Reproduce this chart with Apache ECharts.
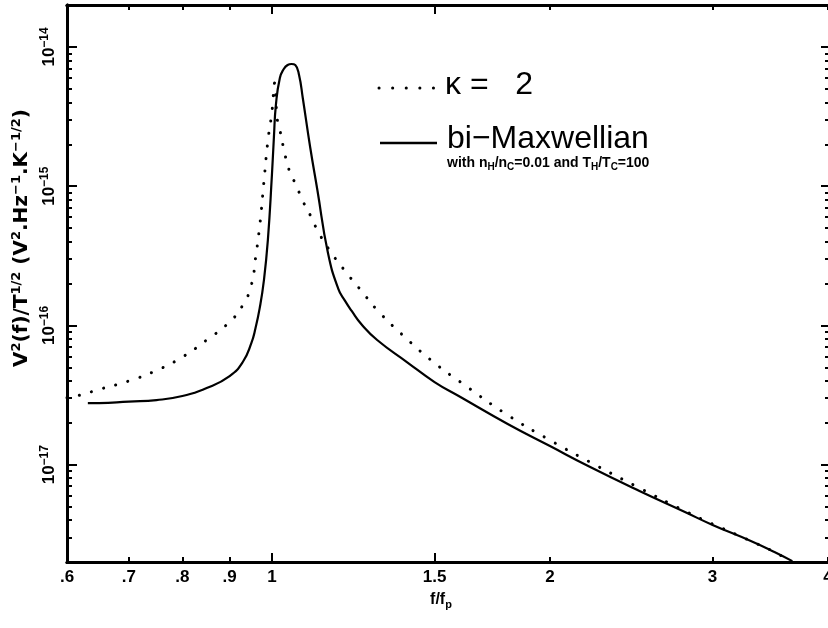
<!DOCTYPE html>
<html>
<head>
<meta charset="utf-8">
<script src="https://cdn.jsdelivr.net/npm/echarts@6/dist/echarts.min.js"></script>
<style>
  html, body { margin: 0; padding: 0; background: #fff; }
  #chart { width: 828px; height: 628px; }
</style>
</head>
<body>
<div id="chart"></div>
<script>
// kappa = 2 curve (dotted)
var freqKappa = [0.6, 0.62, 0.65, 0.7, 0.75, 0.8, 0.85, 0.9, 0.93, 0.95, 0.96, 0.97, 0.98, 0.99, 1.0, 1.007, 1.013, 1.02, 1.03, 1.04, 1.05, 1.06, 1.08, 1.1, 1.12, 1.15, 1.2, 1.25, 1.3, 1.4, 1.5, 1.6, 1.8, 2.0, 2.2, 2.5, 2.8, 3.0, 3.3, 3.5, 3.62];
var valKappa = [3.02e-17, 3.16e-17, 3.47e-17, 3.99e-17, 4.75e-17, 5.93e-17, 7.86e-17, 1.06e-16, 1.40e-16, 1.95e-16, 3.05e-16, 5.17e-16, 1.05e-15, 2.11e-15, 3.41e-15, 5.51e-15, 3.09e-15, 2.53e-15, 1.85e-15, 1.42e-15, 1.18e-15, 1.05e-15, 7.83e-16, 6.21e-16, 4.84e-16, 3.60e-16, 2.46e-16, 1.77e-16, 1.29e-16, 7.99e-17, 5.37e-17, 3.92e-17, 2.27e-17, 1.50e-17, 1.06e-17, 6.80e-18, 4.65e-18, 3.75e-18, 2.83e-18, 2.36e-18, 2.07e-18];
// bi-Maxwellian curve (solid)
var freqBiMax = [0.632, 0.65, 0.7, 0.75, 0.8, 0.85, 0.9, 0.93, 0.95, 0.96, 0.97, 0.98, 0.99, 1.0, 1.005, 1.01, 1.02, 1.03, 1.04, 1.05, 1.06, 1.07, 1.08, 1.1, 1.12, 1.15, 1.18, 1.2, 1.22, 1.25, 1.3, 1.4, 1.5, 1.6, 1.8, 2.0, 2.2, 2.5, 2.8, 3.0, 3.3, 3.5, 3.66];
var valBiMax = [2.77e-17, 2.77e-17, 2.84e-17, 2.91e-17, 3.11e-17, 3.55e-17, 4.33e-17, 5.46e-17, 7.47e-17, 9.58e-17, 1.33e-16, 2.08e-16, 4.11e-16, 1.20e-15, 2.25e-15, 3.83e-15, 5.98e-15, 6.94e-15, 7.42e-15, 7.54e-15, 7.42e-15, 6.28e-15, 4.30e-15, 1.91e-15, 9.39e-16, 3.31e-16, 1.83e-16, 1.50e-16, 1.27e-16, 1.02e-16, 7.86e-17, 5.46e-17, 3.92e-17, 3.06e-17, 1.96e-17, 1.36e-17, 9.78e-18, 6.47e-18, 4.57e-18, 3.69e-18, 2.83e-18, 2.36e-18, 2.03e-18];

var xTicks = [0.6, 0.7, 0.8, 0.9, 1, 1.5, 2, 3, 4];
var xTickLabels = ['.6', '.7', '.8', '.9', '1', '1.5', '2', '3', '4'];
var xLongTicks = [1, 1.5];
var yMajor = [1e-17, 1e-16, 1e-15, 1e-14];
var yMajorExp = ['17', '16', '15', '14'];
var yMinorMult = [2, 3, 4, 5, 6, 7, 8, 9];
var yDecades = [1e-18, 1e-17, 1e-16, 1e-15, 1e-14];

var X_MIN = 0.6, X_MAX = 4, Y_MIN = 2e-18, Y_MAX = 2e-14;

var yMinor = [];
yDecades.forEach(function (d) {
  yMinorMult.forEach(function (m) {
    var v = d * m;
    if (v >= Y_MIN * 0.999 && v <= Y_MAX * 1.001) yMinor.push(v);
  });
});

function pairs(xs, ys) {
  return xs.map(function (x, i) { return [x, ys[i]]; });
}

var FONT = 'Liberation Sans';

function xAxisCfg(position, ticks, len, labels) {
  return {
    type: 'log', logBase: 10, min: X_MIN, max: X_MAX, position: position, gridIndex: 0,
    axisLine: { show: true, onZero: false, lineStyle: { color: '#000', width: 3 } },
    axisTick: { show: true, inside: true, length: len, customValues: ticks, lineStyle: { color: '#000', width: 2 } },
    axisLabel: labels ? {
      show: true, customValues: xTicks, margin: 7, color: '#000',
      fontFamily: FONT, fontWeight: 'bold', fontSize: 17,
      formatter: function (v) {
        for (var i = 0; i < xTicks.length; i++) {
          if (Math.abs(xTicks[i] - v) < 1e-6) return xTickLabels[i];
        }
        return '';
      }
    } : { show: false },
    splitLine: { show: false }, minorTick: { show: false }, minorSplitLine: { show: false }
  };
}

function yAxisCfg(position, ticks, len, labels, showLine) {
  return {
    type: 'log', logBase: 10, min: Y_MIN, max: Y_MAX, position: position, gridIndex: 0,
    axisLine: { show: showLine, onZero: false, lineStyle: { color: '#000', width: 3 } },
    axisTick: { show: true, inside: true, length: len, customValues: ticks, lineStyle: { color: '#000', width: 2 } },
    axisLabel: labels ? {
      show: true, customValues: yMajor, rotate: 90, margin: 8, color: '#000',
      formatter: function (v) {
        for (var i = 0; i < yMajor.length; i++) {
          if (Math.abs(Math.log10(yMajor[i]) - Math.log10(v)) < 1e-6) return '{b|10}{s|\u2212' + yMajorExp[i] + '}';
        }
        return '';
      },
      rich: {
        b: { fontFamily: FONT, fontWeight: 'bold', fontSize: 17, lineHeight: 20, color: '#000' },
        s: { fontFamily: FONT, fontWeight: 'bold', fontSize: 12, lineHeight: 12, verticalAlign: 'top', color: '#000' }
      }
    } : { show: false },
    splitLine: { show: false }, minorTick: { show: false }, minorSplitLine: { show: false }
  };
}

var xOther = xTicks.filter(function (v) { return xLongTicks.indexOf(v) < 0; });

var option = {
  animation: false,
  backgroundColor: '#fff',
  grid: { left: 67, right: 0, top: 5, bottom: 66, containLabel: false, outerBoundsMode: 'none' },
  xAxis: [
    xAxisCfg('bottom', xOther, 5, true),
    xAxisCfg('bottom', xLongTicks, 9, false),
    xAxisCfg('top', xOther, 5, false),
    xAxisCfg('top', xLongTicks, 9, false)
  ],
  yAxis: [
    yAxisCfg('left', yMajor, 10, true, true),
    yAxisCfg('left', yMinor, 5, false, true),
    yAxisCfg('right', yMajor, 7, false, false),
    yAxisCfg('right', yMinor, 3, false, false)
  ],
  series: [
    {
      name: 'kappa', type: 'line', xAxisIndex: 0, yAxisIndex: 0,
      data: pairs(freqKappa, valKappa), symbol: 'none', clip: true,
      smooth: 0.5,
      lineStyle: { color: '#000', width: 3, type: [0.1, 12.5], cap: 'round' }
    },
    {
      name: 'biMax', type: 'line', xAxisIndex: 0, yAxisIndex: 0,
      data: pairs(freqBiMax, valBiMax), symbol: 'none', clip: true,
      smooth: 0.5,
      lineStyle: { color: '#000', width: 2.2 }
    }
  ],
  graphic: [
    { type: 'line', shape: { x1: 379, y1: 88, x2: 434, y2: 88 },
      style: { stroke: '#000', lineWidth: 3, lineDash: [0.1, 13.5], lineCap: 'round' } },
    { type: 'text', x: 445, y: 85,
      style: { text: '\u03ba =   2', fontFamily: FONT, fontSize: 32, fill: '#000', align: 'left', verticalAlign: 'middle' } },
    { type: 'line', shape: { x1: 380, y1: 143, x2: 437, y2: 143 },
      style: { stroke: '#000', lineWidth: 2.5 } },
    { type: 'text', x: 447, y: 139,
      style: { text: 'bi\u2212Maxwellian', fontFamily: FONT, fontSize: 32, fill: '#000', align: 'left', verticalAlign: 'middle' } },
    { type: 'text', x: 447, y: 163,
      style: {
        text: '{m|with n}{d|H}{m|/n}{d|C}{m|=0.01 and T}{d|H}{m|/T}{d|C}{m|=100}',
        align: 'left', verticalAlign: 'middle',
        rich: {
          m: { fontFamily: FONT, fontWeight: 'bold', fontSize: 14, lineHeight: 18, fill: '#000' },
          d: { fontFamily: FONT, fontWeight: 'bold', fontSize: 10, lineHeight: 10, verticalAlign: 'bottom', fill: '#000' }
        }
      } },
    { type: 'text', x: 22, y: 238, rotation: Math.PI / 2,
      style: {
        text: '{m|V}{u|2}{m|(f)/T}{u|1/2}{m| (V}{u|2}{m|.Hz}{u|\u22121}{m|.K}{u|\u22121/2}{m|)}',
        align: 'center', verticalAlign: 'middle',
        rich: {
          m: { fontFamily: 'DejaVu Sans', fontWeight: 'bold', fontSize: 20, lineHeight: 24, fill: '#000' },
          u: { fontFamily: 'DejaVu Sans', fontWeight: 'bold', fontSize: 13, lineHeight: 13, verticalAlign: 'top', fill: '#000' }
        }
      } },
    { type: 'text', x: 441, y: 600,
      style: {
        text: '{m|f/f}{d|p}',
        align: 'center', verticalAlign: 'middle',
        rich: {
          m: { fontFamily: FONT, fontWeight: 'bold', fontSize: 16, lineHeight: 20, fill: '#000' },
          d: { fontFamily: FONT, fontWeight: 'bold', fontSize: 11, lineHeight: 11, verticalAlign: 'bottom', fill: '#000' }
        }
      } }
  ]
};

var chart = echarts.init(document.getElementById('chart'));
chart.setOption(option);
</script>
</body>
</html>
